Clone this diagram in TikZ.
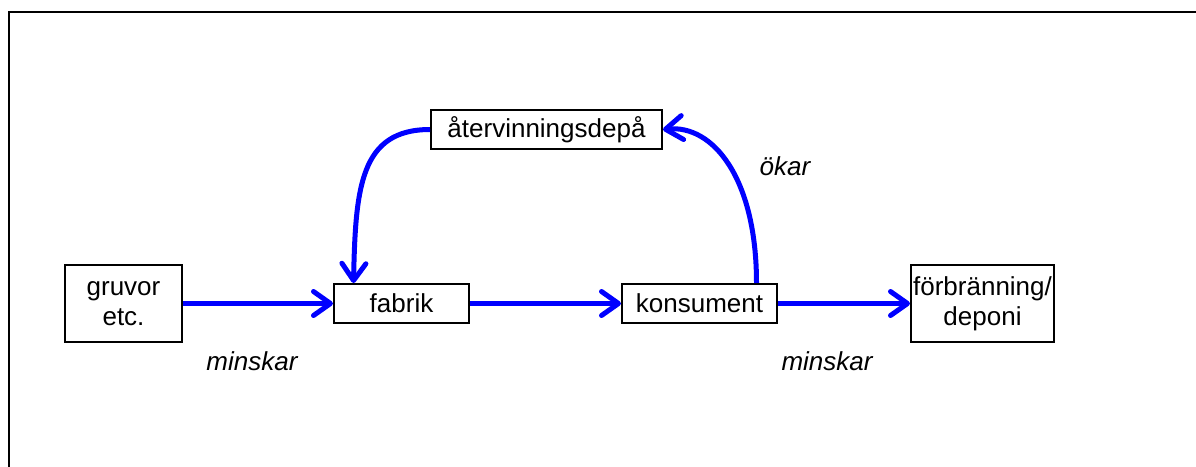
\documentclass[tikz,border=0pt]{standalone}
\usepackage{fontspec}
\setmainfont{Liberation Sans}
\usetikzlibrary{arrows.meta}
\definecolor{flowblue}{RGB}{0,0,255}
\begin{document}
\begin{tikzpicture}[x=1pt,y=-1pt,
  box/.style={draw=black,line width=2pt,fill=white,inner sep=0pt,font=\fontsize{26}{30}\selectfont,align=center},
  flow/.style={draw=flowblue,line width=5pt,-{Straight Barb[length=17pt,width=24pt,round]}},
  lbl/.style={font=\fontsize{26}{28}\selectfont\itshape,inner sep=0pt}]
\useasboundingbox (0,0) rectangle (1196,466);
\draw[line width=2pt] (8.5,470) -- (8.5,12) -- (1200,12);
\node[box,minimum width=117pt,minimum height=77pt] (gruvor) at (123.5,303.5) {gruvor\\etc.};
\node[box,minimum width=135pt,minimum height=39pt] (fabrik) at (401.5,303.5) {fabrik};
\node[box,minimum width=155pt,minimum height=39pt] (konsument) at (699.5,303.5) {konsument};
\node[box,minimum width=143pt,minimum height=77pt] (forbr) at (982.5,303.5) {förbränning/\\deponi};
\node[box,minimum width=231pt,minimum height=39pt] (atervinning) at (546.5,129.5) {återvinningsdepå};
\draw[flow] (gruvor.east) -- (fabrik.west);
\draw[flow] (fabrik.east) -- (konsument.west);
\draw[flow] (konsument.east) -- (forbr.west);
\draw[flow] (atervinning.west) .. controls +(-70,0) and +(2,-95) .. ([xshift=-48pt]fabrik.north);
\draw[flow] ([xshift=57pt]konsument.north) .. controls +(0,-105) and +(50,-5) .. (atervinning.east);
\node[lbl] (m1) at (252,361) {minskar};
\node[lbl] (m2) at (827,361) {minskar};
\node[lbl] (ok) at (785,166) {ökar};
\end{tikzpicture}
\end{document}
